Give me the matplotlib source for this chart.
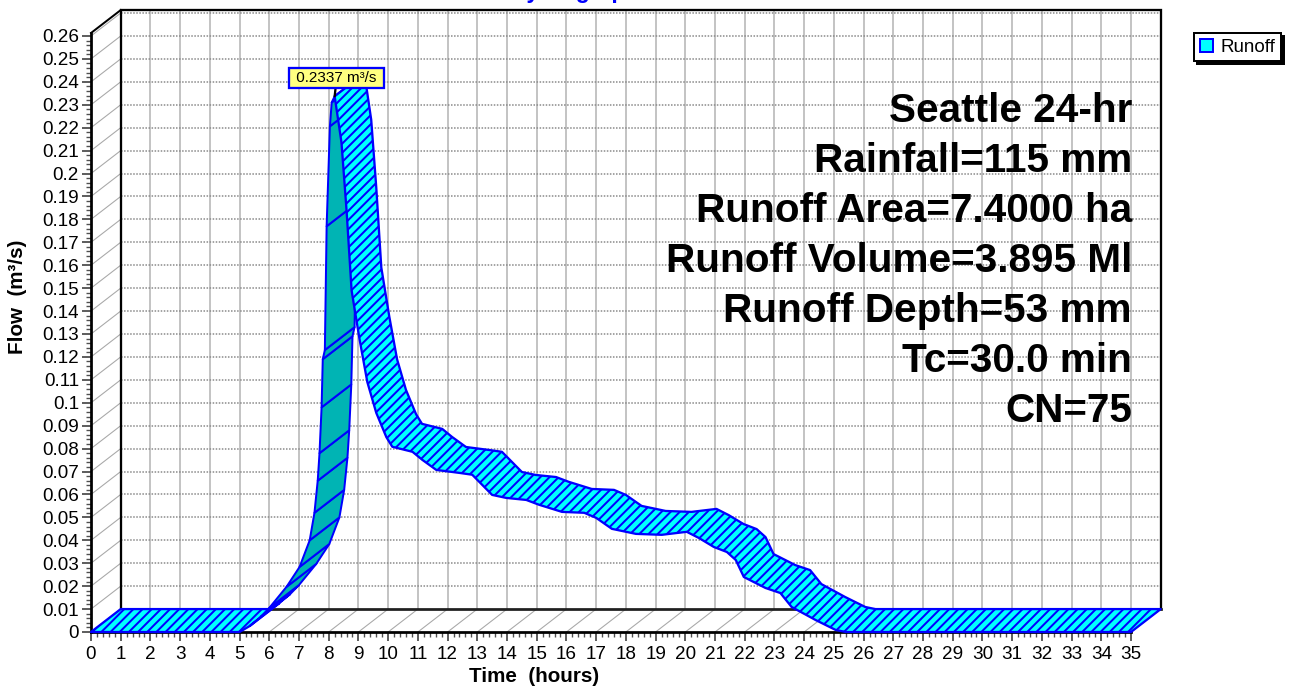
import matplotlib
matplotlib.use("Agg")
import matplotlib.pyplot as plt
from matplotlib.patches import Polygon, Patch
from matplotlib.ticker import MultipleLocator, FixedLocator, FixedFormatter
import matplotlib.transforms as mtransforms
import numpy as np

plt.rcParams['font.family'] = ['Liberation Sans', 'DejaVu Sans']
plt.rcParams['hatch.linewidth'] = 1.3
plt.rcParams['hatch.color'] = 'blue'

# ---------------- data ----------------
time_hr = [0, 5.0, 5.34, 5.7, 6.0, 6.58, 7.02, 7.36, 7.52, 7.63, 7.69, 7.76, 7.8,
           7.87, 7.93, 8.04, 8.1, 8.2,
           8.43, 8.6, 8.77, 9.04, 9.3, 9.6, 9.94, 10.14, 10.82, 11.15, 11.62,
           12.4, 12.83, 13.5, 13.97, 14.65, 15.08, 15.85, 16.6, 17.0, 17.53,
           18.34, 19.21, 20.05, 20.46, 20.96, 21.4, 21.7, 21.97, 22.7, 23.2,
           23.58, 24.39, 25.06, 25.4, 35]
flow_cms = [0, 0, 0.0026, 0.0065, 0.0105, 0.0197, 0.0284, 0.040, 0.052, 0.066,
            0.078, 0.098, 0.119, 0.123, 0.177, 0.2206, 0.231, 0.2337,
            0.2135, 0.184, 0.149, 0.1275, 0.109, 0.0956, 0.085, 0.0808, 0.0786,
            0.0751, 0.0707, 0.0694, 0.0686, 0.0598, 0.0585, 0.0576, 0.0555,
            0.0524, 0.0520, 0.0498, 0.0450, 0.0428, 0.0424, 0.0437, 0.0410,
            0.0371, 0.0349, 0.0314, 0.0240, 0.0192, 0.0170, 0.0109, 0.0052,
            0.0009, 0, 0]
x_ticks = list(range(0, 36))
y_ticks = [round(0.01 * i, 2) for i in range(0, 27)]
y_tick_labels = [f"{v:g}" for v in y_ticks]
info_lines = ["Seattle 24-hr", "Rainfall=115 mm", "Runoff Area=7.4000 ha",
              "Runoff Volume=3.895 Ml", "Runoff Depth=53 mm", "Tc=30.0 min", "CN=75"]
series_name = "Runoff"
title_text = "Hydrograph"
x_label = "Time  (hours)"
y_label = "Flow  (m³/s)"
peak_unit = "m³/s"

# 3D depth offset expressed in data units (one hour, 0.01 m³/s)
DX, DY = 1.0, 0.01
YMAX = 0.2613

W, H, DPI = 1294, 687, 110
fig = plt.figure(figsize=(W / DPI, H / DPI), dpi=DPI)
ax = fig.add_axes([91 / W, (H - 632) / H, 1040 / W, (632 - 33) / H])
ax.set_xlim(0, 35)
ax.set_ylim(0, YMAX)
ax.patch.set_visible(False)

CYAN = '#00FFFF'
DARK = '#00B4B4'
BLUE = '#0000FF'

# ---------------- walls & grid ----------------
xb0, xb1 = x_ticks[0] + DX, x_ticks[-1] + DX
yb0, yb1 = 0 + DY, YMAX + DY
for t in x_ticks:
    ax.plot([t + DX, t + DX], [yb0, yb1], color='#c4c4c4', lw=1.3, clip_on=False, zorder=1)
    ax.plot([t, t + DX], [0, DY], color='#a8a8a8', lw=0.7, clip_on=False, zorder=1)
for v in y_ticks:
    if v > 0:
        ax.plot([xb0, xb1], [v + DY, v + DY], color='#8a8a8a', lw=1.0,
                ls=(0, (1, 1)), clip_on=False, zorder=1)
    ax.plot([0, DX], [v, v + DY], color='#a8a8a8', lw=0.7, clip_on=False, zorder=1)

ax.plot([xb0, xb0, xb1, xb1], [yb0, yb1, yb1, yb0], color='black', lw=1.5,
        clip_on=False, zorder=2, solid_joinstyle='miter')
ax.plot([xb0, xb1], [yb0, yb0], color='#202020', lw=1.8, clip_on=False, zorder=2)
ax.plot([0, xb0], [YMAX, yb1], color='black', lw=1.3, clip_on=False, zorder=2)

# ---------------- 3D ribbon ----------------
t = np.asarray(time_hr, float)
q = np.asarray(flow_cms, float)
front = np.column_stack([t, q])
back = front + np.array([DX, DY])

pf = ax.transData.transform(front)
dvec = ax.transData.transform((DX, DY)) - ax.transData.transform((0, 0))
seg = pf[1:] - pf[:-1]
top_visible = (seg[:, 0] * dvec[1] - seg[:, 1] * dvec[0]) > 0

runs = []
start = 0
for i in range(1, len(top_visible) + 1):
    if i == len(top_visible) or top_visible[i] != top_visible[start]:
        runs.append((start, i, top_visible[start]))
        start = i

for s, e, up in runs:
    if up:
        pts = np.vstack([front[s:e + 1], back[s:e + 1][::-1]])
        ax.add_patch(Polygon(pts, closed=True, facecolor=CYAN, edgecolor=BLUE,
                             hatch='////', lw=1.5, clip_on=False, zorder=3,
                             joinstyle='round'))
    else:
        for k in range(s, e):
            quad = np.array([front[k], front[k + 1], back[k + 1], back[k]])
            ax.add_patch(Polygon(quad, closed=True, facecolor=DARK, edgecolor=BLUE,
                                 lw=1.3, clip_on=False, zorder=3, joinstyle='round'))

# peak label
ip = int(np.argmax(q))
ax.annotate(f" {q[ip]:.4f} {peak_unit} ", xy=(t[ip], q[ip]), xytext=(2, 18),
            textcoords='offset pixels', ha='center', va='center', fontsize=10,
            bbox=dict(boxstyle='square,pad=0.2', fc='#FFFF80', ec=BLUE, lw=1.5),
            arrowprops=dict(arrowstyle='-', color='black', lw=1.5,
                            shrinkA=0, shrinkB=0),
            zorder=6, annotation_clip=False)

# ---------------- axes / ticks ----------------
for side in ('top', 'right'):
    ax.spines[side].set_visible(False)
for side in ('left', 'bottom'):
    ax.spines[side].set_linewidth(1.8)
    ax.spines[side].set_color('black')
    ax.spines[side].set_zorder(2.5)

ax.xaxis.set_major_locator(FixedLocator(x_ticks))
ax.xaxis.set_major_formatter(FixedFormatter([str(v) for v in x_ticks]))
ax.xaxis.set_minor_locator(MultipleLocator(0.2))
ax.yaxis.set_major_locator(FixedLocator(y_ticks))
ax.yaxis.set_major_formatter(FixedFormatter(y_tick_labels))
ax.yaxis.set_minor_locator(MultipleLocator(0.002))
ax.tick_params(which='major', length=5.9, width=1.0, color='#303030',
               labelsize=12.4, pad=2.0)
ax.tick_params(which='minor', length=3.0, width=0.9, color='#505050')
ax.tick_params(axis='x', which='major', pad=3.0)

# axis titles
fig.text(534 / W, 1 - 676 / H, x_label, ha='center', va='center',
         fontsize=13.5, fontweight='bold')
fig.text(18 / W, 1 - 297 / H, y_label, ha='center', va='center',
         fontsize=13.5, fontweight='bold', rotation=90)

# title (mostly above the image edge, only descenders visible as in the source)
fig.text(575 / W, 1 + 2 / H, title_text, ha='center', va='baseline',
         fontsize=15, fontweight='bold', color=BLUE)

# info text block
for i, line in enumerate(info_lines):
    tr = mtransforms.offset_copy(ax.transData, fig=fig, x=0, y=-50 * i, units='dots')
    ax.text(35.03, 0.2225, line, transform=tr, ha='right', va='baseline',
            fontsize=26.5, fontweight='bold', zorder=5, clip_on=False)

# legend
handles = [Patch(facecolor=CYAN, edgecolor=BLUE, lw=1.3, label=series_name)]
leg = fig.legend(handles=handles, loc='upper left',
                 bbox_to_anchor=(1194 / W, 1 - 33 / H), fontsize=12.3,
                 fancybox=False, frameon=True, framealpha=1, edgecolor='black',
                 handlelength=0.7, handleheight=0.7, handletextpad=0.4,
                 borderpad=0.3, borderaxespad=0,
                 shadow={'color': 'black', 'alpha': 1})
leg.get_frame().set_linewidth(1.3)

fig.savefig('out.png', dpi=DPI)
